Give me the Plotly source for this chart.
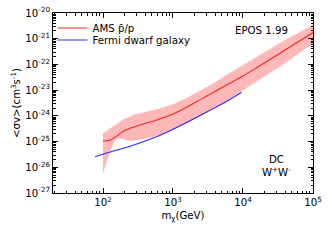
import plotly.graph_objects as go
import numpy as np

# AMS pbar/p limit (log10 mass, log10 <sigma v>)
ams_logm = [2.0, 2.1, 2.2, 2.3, 2.45, 2.6, 2.8, 3.0, 3.2, 3.4, 3.6, 3.8, 4.0, 4.2, 4.4, 4.6, 4.8, 5.0]
ams_logsv = [-24.98, -24.95, -24.78, -24.58, -24.42, -24.3, -24.13, -23.93, -23.66, -23.35,
             -23.05, -22.75, -22.45, -22.12, -21.78, -21.44, -21.1, -20.77]
ams_upper = [-24.68, -24.5, -24.3, -24.12, -23.95, -23.85, -23.72, -23.55, -23.3, -23.0,
             -22.7, -22.35, -22.02, -21.68, -21.35, -21.05, -20.76, -20.47]
band_low_logm = [2.0, 2.05, 2.1, 2.17, 2.22, 2.3, 2.4, 2.5, 2.6, 2.8, 3.0, 3.2, 3.4, 3.6, 3.8, 4.0, 4.2, 4.4, 4.6, 4.8, 5.0]
ams_lower = [-26.23, -25.8, -25.4, -24.95, -24.88, -24.92, -24.98, -24.95, -24.9, -24.75, -24.55,
             -24.3, -24.0, -23.7, -23.35, -23.0, -22.65, -22.3, -21.95, -21.58, -21.18]

# Fermi dwarf galaxy limit
fermi_logm = [1.886, 2.0, 2.2, 2.4, 2.6, 2.8, 3.0, 3.2, 3.4, 3.6, 3.8, 3.98]
fermi_logsv = [-25.59, -25.49, -25.33, -25.17, -24.98, -24.77, -24.52, -24.25, -23.97, -23.68, -23.38, -23.08]

ytick_exp = [-20, -21, -22, -23, -24, -25, -26, -27]
xtick_exp = [2, 3, 4, 5]

p = lambda a: [10 ** v for v in a]

fig = go.Figure()
band_x = p(ams_logm) + p(band_low_logm)[::-1]
band_y = p(ams_upper) + p(ams_lower)[::-1]
fig.add_trace(go.Scatter(x=band_x, y=band_y, fill="toself", fillcolor="#ffb8b8",
                         line=dict(width=0, color="#ffb8b8"), mode="lines",
                         showlegend=False, hoverinfo="skip"))
fig.add_trace(go.Scatter(x=p(ams_logm), y=p(ams_logsv), mode="lines", name="AMS p\u0304/p",
                         line=dict(color="#ff2020", width=1.1, shape="spline"), legend="legend"))
fig.add_trace(go.Scatter(x=p(fermi_logm), y=p(fermi_logsv), mode="lines", name="Fermi dwarf galaxy",
                         line=dict(color="#2a2aff", width=1.1, shape="spline"), legend="legend2"))

font = dict(family="DejaVu Sans", size=10.2, color="black")
axis_common = dict(type="log", showline=True, linecolor="black", linewidth=1, mirror="allticks",
                   ticks="inside", ticklen=5, tickcolor="black", showgrid=False, zeroline=False,
                   automargin=False, ticklabeloverflow="allow",
                   minor=dict(ticks="inside", ticklen=2.5, tickcolor="black", dtick="D1", showgrid=False),
                   tickfont=font)
fig.update_xaxes(**axis_common, range=[np.log10(19.3), 5.0005],
                 tickvals=p(xtick_exp), ticktext=[f"10<sup>{e}</sup>" for e in xtick_exp],
                 title=dict(text="m<sub>χ</sub>(GeV)", font=font, standoff=4))
fig.update_yaxes(**axis_common, range=[-27.001, -19.999],
                 tickvals=p(ytick_exp), ticktext=[f"10<sup>{e}</sup>" for e in ytick_exp],
                 title=dict(text="&lt;σv&gt;(cm<sup>3</sup>s<sup>-1</sup>)", font=font, standoff=2))

fig.add_annotation(text="EPOS 1.99", xref="paper", yref="paper", x=0.912, y=0.90,
                   showarrow=False, font=font, xanchor="right", yanchor="middle")
fig.add_annotation(text="DC<br>W<sup>+</sup>W<sup>-</sup>", xref="paper", yref="paper", x=0.86, y=0.15,
                   showarrow=False, font=font, xanchor="center", yanchor="middle", align="center")

leg_common = dict(xanchor="left", yanchor="middle", bgcolor="rgba(0,0,0,0)", font=font, itemwidth=30)
fig.update_layout(width=332, height=242, margin=dict(l=53, r=19, t=13, b=49),
                  paper_bgcolor="white", plot_bgcolor="white", font=font,
                  legend=dict(x=-0.002, y=0.917, **leg_common),
                  legend2=dict(x=-0.002, y=0.85, **leg_common))
fig.write_html("out.html", config={"displayModeBar": False},
               post_script="document.body.style.margin='0';")
